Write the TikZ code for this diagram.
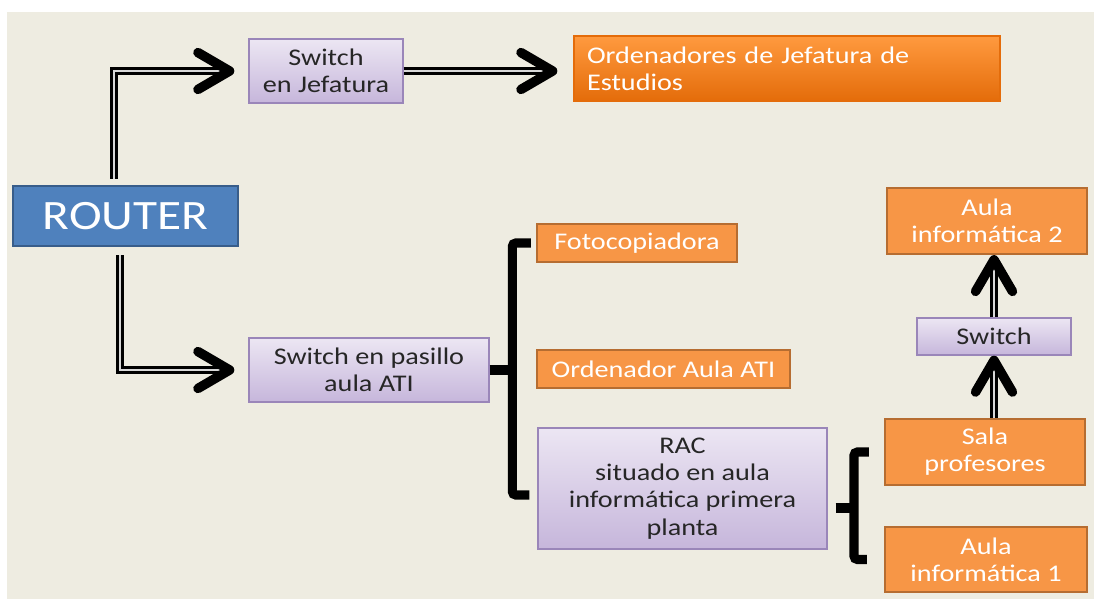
\documentclass[tikz,border=0pt]{standalone}
\usepackage{fontspec}
\setmainfont{Carlito}[FakeStretch=1.18]
\usepackage{tikz}
\usetikzlibrary{arrows.meta,positioning,calc,decorations.markings}

\definecolor{fondo}{HTML}{EEECE1}
\definecolor{azulr}{HTML}{4F81BD}
\definecolor{azulb}{HTML}{385D8A}
\definecolor{naranja}{HTML}{F79646}
\definecolor{naranjab}{HTML}{B66D31}
\definecolor{naranjaa}{HTML}{FF9A3F}
\definecolor{naranjac}{HTML}{E46C0A}
\definecolor{lilaa}{HTML}{ECE6F3}
\definecolor{lilac}{HTML}{C6B6DB}
\definecolor{lilab}{HTML}{9A86B9}
\definecolor{texto}{HTML}{262626}
\definecolor{raya}{HTML}{D8D8D8}

\tikzset{
  letra/.style={font=\fontsize{13.6pt}{15.5pt}\selectfont},
  rout/.style={rectangle,fill=azulr,draw=azulb,line width=1.2pt,text=white,
    font=\fontsize{23.8pt}{28pt}\selectfont,inner sep=0pt},
  lila/.style={rectangle,top color=lilaa,bottom color=lilac,draw=lilab,line width=0.8pt,
    text=texto,letra,align=center,inner sep=0pt},
  nar/.style={rectangle,fill=naranja,draw=naranjab,line width=1.2pt,text=white,
    letra,align=center,inner sep=0pt},
  narg/.style={rectangle,top color=naranjaa,bottom color=naranjac,draw=naranjac,line width=0.8pt,
    text=white,letra,align=left,inner ysep=0pt,inner xsep=0.26cm},
  pipe/.style={line width=2pt,double=raya,double distance=0.6pt,shorten >=3pt,
    postaction={decorate},
    decoration={markings,mark=at position 1 with
      {\arrow{Straight Barb[length=18pt,width=21pt,line width=5.4pt,round]}}}},
  brk/.style={line width=5.2pt,rounded corners=2pt}
}

\begin{document}
\begin{tikzpicture}[x=0.02cm,y=-0.02cm]
\useasboundingbox (0,0) rectangle (1094,599);
\fill[fondo] (7,12) rectangle (1094,599);

\node[rout,minimum width=4.5cm,minimum height=1.2cm](router) at (125.5,216){ROUTER};
\node[lila,minimum width=3.08cm,minimum height=1.28cm](sw1) at (326,71){Switch\\en Jefatura};
\node[narg,text width=8cm,minimum height=1.3cm](ord1) at (787,68.5){Ordenadores de Jefatura de\\Estudios};
\node[lila,minimum width=4.8cm,minimum height=1.28cm](sw2) at (369,370){Switch en pasillo\\aula ATI};
\node[nar,minimum width=4cm,minimum height=0.76cm](foto) at (637,243){Fotocopiadora};
\node[nar,minimum width=5.06cm,minimum height=0.76cm](ordati) at (663.5,369){Ordenador Aula ATI};
\node[lila,minimum width=5.78cm,minimum height=2.42cm](rac) at (682.5,488.5){RAC\\situado en aula\\informática primera\\planta};
\node[nar,minimum width=4cm,minimum height=1.32cm](aula2) at (987,221){Aula\\informática 2};
\node[lila,minimum width=3.08cm,minimum height=0.74cm](sw3) at (994,336.5){Switch};
\node[nar,minimum width=4cm,minimum height=1.32cm](sala) at (985,452){Sala\\profesores};
\node[nar,minimum width=4.04cm,minimum height=1.3cm](aula1) at (986,559.5){Aula\\informática 1};

\draw[pipe] ($(router.north)+(-11.5,-6)$) |- ($(sw1.west)+(-14,0)$);
\draw[pipe] ($(router.south)+(-5.5,8)$) |- ($(sw2.west)+(-14,0)$);
\draw[pipe] (sw1.east) -- ($(sw1.east -| ord1.west)+(-16,0)$);
\draw[pipe] (sala.north -| sw3.south) -- (sw3.south);
\draw[pipe] (sw3.north) -- (sw3.north |- aula2.south);

\draw[brk] (sw2.east) -- ++(24,0);
\draw[brk] ($(foto.west)+(-5,0)$) -| ($(rac.west)+(-25,6.5)$) -- ($(rac.west)+(-8,6.5)$);
\draw[brk] ($(rac.east)+(8,19.5)$) -- ++(20,0);
\draw[brk] ($(sala.west)+(-15,0)$) -| ($(aula1.west)+(-30,0)$) -- ($(aula1.west)+(-17,0)$);
\end{tikzpicture}
\end{document}
